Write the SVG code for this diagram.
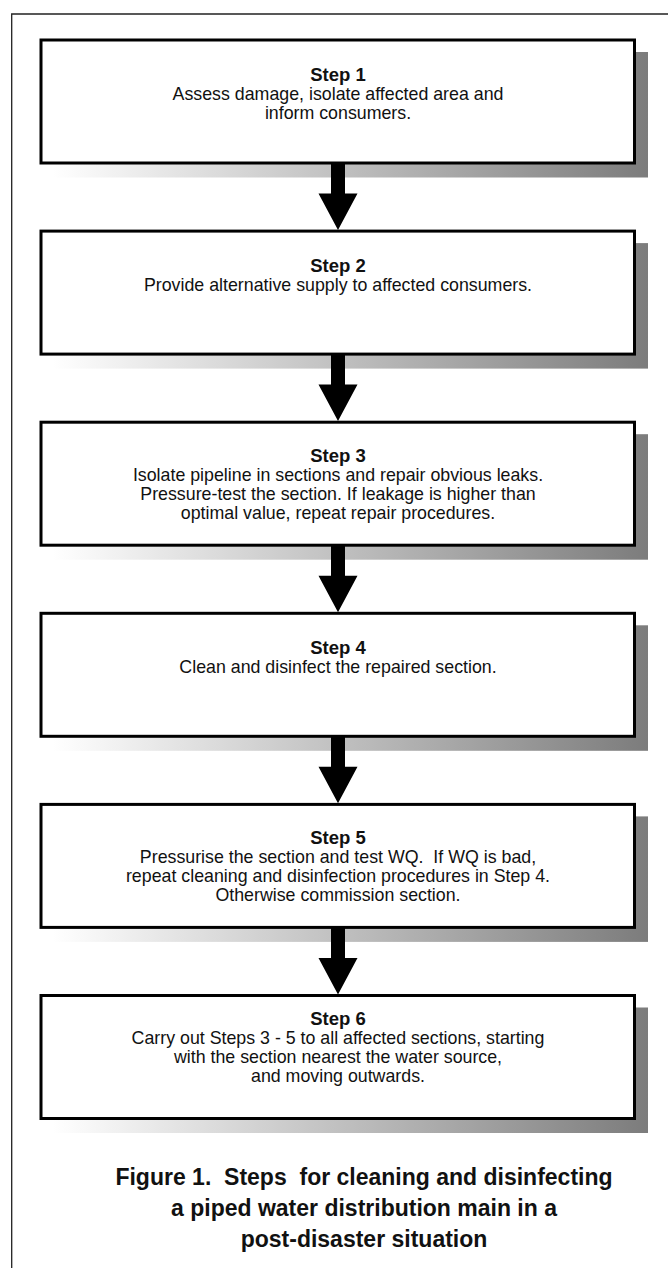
<svg xmlns="http://www.w3.org/2000/svg" xmlns:xlink="http://www.w3.org/1999/xlink" width="668" height="1268" viewBox="0 0 668 1268">
<defs>
<linearGradient id="sh" x1="0" y1="0" x2="1" y2="0">
<stop offset="0" stop-color="#ffffff"/>
<stop offset="1" stop-color="#7c7c7c"/>
</linearGradient>
<path id="arr" d="M-7,-1 H7 V29 H19.5 L0,65.5 L-19.5,29 H-7 Z"/>
<style>
.shadow{fill:url(#sh);}
.box{fill:#ffffff;stroke:#000000;stroke-width:3;}
.t{font-family:"Liberation Sans",Arial,Helvetica,sans-serif;text-anchor:middle;fill:#111111;}
.title{font-size:18.5px;font-weight:bold;}
.body{font-size:17.8px;}
.cap{font-size:23px;font-weight:bold;white-space:pre;}
.arrow{fill:#000000;}
</style>
</defs>
<rect x="0" y="0" width="668" height="1268" fill="#ffffff"/>
<g id="frame" fill="none" stroke="#222222" stroke-width="1.3">
<polyline points="11.7,1268 11.7,14 668,14"/>
</g>
<g id="step1">
<rect class="shadow" x="52.5" y="52" width="595.5" height="125.5"/>
<rect class="box" x="41" y="40" width="593.5" height="123"/>
<text class="t title" x="338" y="81">Step 1</text>
<text class="t body" x="338" y="100">Assess damage, isolate affected area and</text>
<text class="t body" x="338" y="119">inform consumers.</text>
</g>
<g id="step2">
<rect class="shadow" x="52.5" y="243.1" width="595.5" height="125.5"/>
<rect class="box" x="41" y="231.1" width="593.5" height="123"/>
<text class="t title" x="338" y="272">Step 2</text>
<text class="t body" x="338" y="291">Provide alternative supply to affected consumers.</text>
</g>
<g id="step3">
<rect class="shadow" x="52.5" y="434.2" width="595.5" height="125.5"/>
<rect class="box" x="41" y="422.2" width="593.5" height="123"/>
<text class="t title" x="338" y="462">Step 3</text>
<text class="t body" x="338" y="481">Isolate pipeline in sections and repair obvious leaks.</text>
<text class="t body" x="338" y="500">Pressure-test the section. If leakage is higher than</text>
<text class="t body" x="338" y="519">optimal value, repeat repair procedures.</text>
</g>
<g id="step4">
<rect class="shadow" x="52.5" y="625.3" width="595.5" height="125.5"/>
<rect class="box" x="41" y="613.3" width="593.5" height="123"/>
<text class="t title" x="338" y="654">Step 4</text>
<text class="t body" x="338" y="673">Clean and disinfect the repaired section.</text>
</g>
<g id="step5">
<rect class="shadow" x="52.5" y="816.4" width="595.5" height="125.5"/>
<rect class="box" x="41" y="804.4" width="593.5" height="123"/>
<text class="t title" x="338" y="844">Step 5</text>
<text class="t body" x="338" y="863" xml:space="preserve">Pressurise the section and test WQ.  If WQ is bad,</text>
<text class="t body" x="338" y="882">repeat cleaning and disinfection procedures in Step 4.</text>
<text class="t body" x="338" y="901">Otherwise commission section.</text>
</g>
<g id="step6">
<rect class="shadow" x="52.5" y="1007.5" width="595.5" height="125.5"/>
<rect class="box" x="41" y="995.5" width="593.5" height="123"/>
<text class="t title" x="338" y="1025">Step 6</text>
<text class="t body" x="338" y="1044">Carry out Steps 3 - 5 to all affected sections, starting</text>
<text class="t body" x="338" y="1063">with the section nearest the water source,</text>
<text class="t body" x="338" y="1082">and moving outwards.</text>
</g>
<g id="connectors" class="arrow">
<use xlink:href="#arr" x="338" y="164.5"/>
<use xlink:href="#arr" x="338" y="355.6"/>
<use xlink:href="#arr" x="338" y="546.7"/>
<use xlink:href="#arr" x="338" y="737.8"/>
<use xlink:href="#arr" x="338" y="928.9"/>
</g>
<g id="caption">
<text class="t cap" x="364" y="1185" xml:space="preserve">Figure 1.  Steps  for cleaning and disinfecting</text>
<text class="t cap" x="364" y="1216">a piped water distribution main in a</text>
<text class="t cap" x="364" y="1247">post-disaster situation</text>
</g>
</svg>
